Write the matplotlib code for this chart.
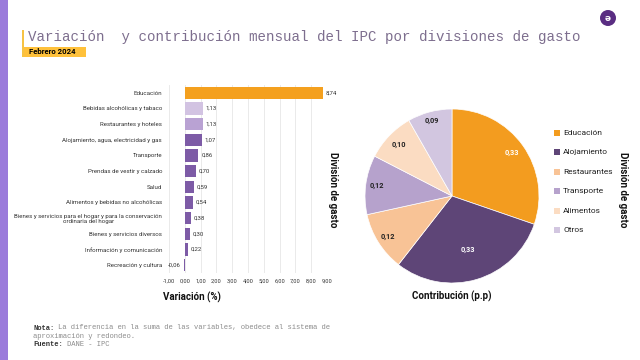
import matplotlib
matplotlib.use("Agg")
import matplotlib.pyplot as plt
import numpy as np
from matplotlib.patches import Rectangle, Ellipse

# ---------------- data ----------------
bar_categories = [
    "Educación",
    "Bebidas alcohólicas y tabaco",
    "Restaurantes y hoteles",
    "Alojamiento, agua, electricidad y gas",
    "Transporte",
    "Prendas de vestir y calzado",
    "Salud",
    "Alimentos y bebidas no alcohólicas",
    "Bienes y servicios para el hogar y para la conservación\nordinaria del hogar",
    "Bienes y servicios diversos",
    "Información y comunicación",
    "Recreación y cultura",
]
bar_values = [8.74, 1.13, 1.13, 1.07, 0.86, 0.70, 0.59, 0.54, 0.38, 0.30, 0.22, -0.06]
x_ticks = [-1, 0, 1, 2, 3, 4, 5, 6, 7, 8, 9]

pie_categories = ["Educación", "Alojamiento", "Restaurantes", "Transporte", "Alimentos", "Otros"]
pie_values = [0.33, 0.33, 0.12, 0.12, 0.10, 0.09]

# ---------------- styles ----------------
bar_colors = ["#F4A01E", "#D2C3E2", "#B9A2D3"] + ["#7D5BA6"] * 9
pie_colors = ["#F39C1F", "#5E4577", "#F8C396", "#B6A2CC", "#FBDCC2", "#D2C6E0"]
pie_label_colors = ["white", "white", "#222222", "#222222", "#222222", "#222222"]
pie_label_dist = [0.85, 0.64, 0.87, 0.87, 0.85, 0.90]

COND = ["Liberation Sans Narrow", "Roboto", "DejaVu Sans"]
MONO = ["Liberation Mono", "DejaVu Sans Mono"]

def fmt(v):
    return f"{v:.2f}".replace(".", ",")

fig = plt.figure(figsize=(6.4, 3.6), dpi=100)
fig.patch.set_facecolor("white")
W, H = 640, 360

def fx(px):
    return px / W

def fy(py):
    return 1 - py / H

# left purple band
fig.add_artist(Rectangle((0, 0), fx(8), 1, transform=fig.transFigure,
                         facecolor="#9B7BDB", edgecolor="none"))
# yellow accent line
fig.add_artist(Rectangle((fx(22), fy(57)), fx(2), 27 / H, transform=fig.transFigure,
                         facecolor="#F6C344", edgecolor="none"))
# title
fig.text(fx(28), fy(37), "Variación  y contribución mensual del IPC por divisiones de gasto",
         family=MONO, fontsize=10.2, color="#7D6E8E", va="center", ha="left")
# subtitle box
fig.add_artist(Rectangle((fx(24), fy(57)), fx(62), 10 / H, transform=fig.transFigure,
                         facecolor="#FFC13B", edgecolor="none"))
fig.text(fx(29), fy(52), "Febrero 2024", family=COND, fontsize=5.6, fontweight="bold",
         color="black", va="center", ha="left")

# logo
fig.add_artist(Ellipse((fx(608), fy(18)), 16 / W, 16 / H, transform=fig.transFigure,
                       facecolor="#5A2D82", edgecolor="none"))
fig.text(fx(608), fy(18.5), "ə", fontsize=6.5, color="white", fontweight="bold",
         ha="center", va="center")

# ---------------- bar chart ----------------
ax1 = fig.add_axes([fx(169), fy(273), fx(327) - fx(169), (273 - 85) / H])
y = np.arange(len(bar_categories))
ax1.barh(y, bar_values, height=0.8, color=bar_colors, zorder=3)
ax1.set_ylim(len(bar_categories) - 0.5, -0.5)
ax1.set_xlim(-1, 9)
ax1.set_xticks(x_ticks)
ax1.set_xticklabels([fmt(t) for t in x_ticks], family=COND, fontsize=4.1, color="#333333")
ax1.set_yticks(y)
ax1.set_yticklabels(bar_categories, family=COND, fontsize=4.4, color="#333333",
                    multialignment="center")
ax1.tick_params(axis="both", length=0, pad=5)
ax1.tick_params(axis="x", pad=4)
ax1.grid(axis="x", color="#E6E6E6", linewidth=0.6, zorder=0)
for s in ax1.spines.values():
    s.set_visible(False)
for yi, v in zip(y, bar_values):
    if v >= 0:
        ax1.annotate(fmt(v), (v, yi), xytext=(2, 0), textcoords="offset points",
                     ha="left", va="center", family=COND, fontsize=4.3, color="#333333")
    else:
        ax1.annotate(fmt(v), (v, yi), xytext=(-2, 0), textcoords="offset points",
                     ha="right", va="center", family=COND, fontsize=4.3, color="#333333")

fig.text(fx(163), fy(297), "Variación (%)", family=COND, fontsize=7, fontweight="bold",
         color="#111111", ha="left", va="center")
fig.text(fx(333), fy(190), "División de gasto", family=COND, fontsize=7, fontweight="bold",
         color="#111111", ha="center", va="center", rotation=270)

# ---------------- pie chart ----------------
cx, cy, r = 452, 196, 87
ax2 = fig.add_axes([fx(cx - r), fy(cy + r), 2 * r / W, 2 * r / H])
wedges, _ = ax2.pie(pie_values, colors=pie_colors, startangle=90, counterclock=False,
                    wedgeprops=dict(edgecolor="white", linewidth=0.5))
ax2.set_xlim(-1, 1)
ax2.set_ylim(-1, 1)
for w, v, c, d in zip(wedges, pie_values, pie_label_colors, pie_label_dist):
    ang = np.deg2rad((w.theta1 + w.theta2) / 2)
    ax2.text(d * np.cos(ang), d * np.sin(ang), fmt(v), ha="center", va="center",
             family=COND, fontsize=5.3, fontweight="bold", color=c)

fig.text(fx(452), fy(296), "Contribución (p.p)", family=COND, fontsize=7, fontweight="bold",
         color="#111111", ha="center", va="center")

# legend
leg_y0, leg_dy = 133, 19.4
for i, (name, col) in enumerate(zip(pie_categories, pie_colors)):
    yy = leg_y0 + i * leg_dy
    fig.add_artist(Rectangle((fx(554), fy(yy + 3)), 6 / W, 6 / H, transform=fig.transFigure,
                             facecolor=col, edgecolor="none"))
    fig.text(fx(563), fy(yy), name, family=COND, fontsize=6.0, color="#222222",
             ha="left", va="center")
fig.text(fx(623), fy(190), "División de gasto", family=COND, fontsize=7, fontweight="bold",
         color="#111111", ha="center", va="center", rotation=270)

# ---------------- footnote ----------------
fig.text(fx(33), fy(328), "Nota:", family=MONO, fontsize=5.1, fontweight="bold",
         color="#333333", ha="left", va="center")
fig.text(fx(33 + 6 * 4.24), fy(328),
         "La diferencia en la suma de las variables, obedece al sistema de",
         family=MONO, fontsize=5.1, color="#8C8C8C", ha="left", va="center")
fig.text(fx(33), fy(336.5), "aproximación y redondeo.", family=MONO, fontsize=5.1,
         color="#8C8C8C", ha="left", va="center")
fig.text(fx(33), fy(345), "Fuente:", family=MONO, fontsize=5.1, fontweight="bold",
         color="#333333", ha="left", va="center")
fig.text(fx(33 + 8 * 4.24), fy(345), "DANE - IPC", family=MONO, fontsize=5.1,
         color="#8C8C8C", ha="left", va="center")

fig.savefig("out.png", dpi=100, facecolor="white")
